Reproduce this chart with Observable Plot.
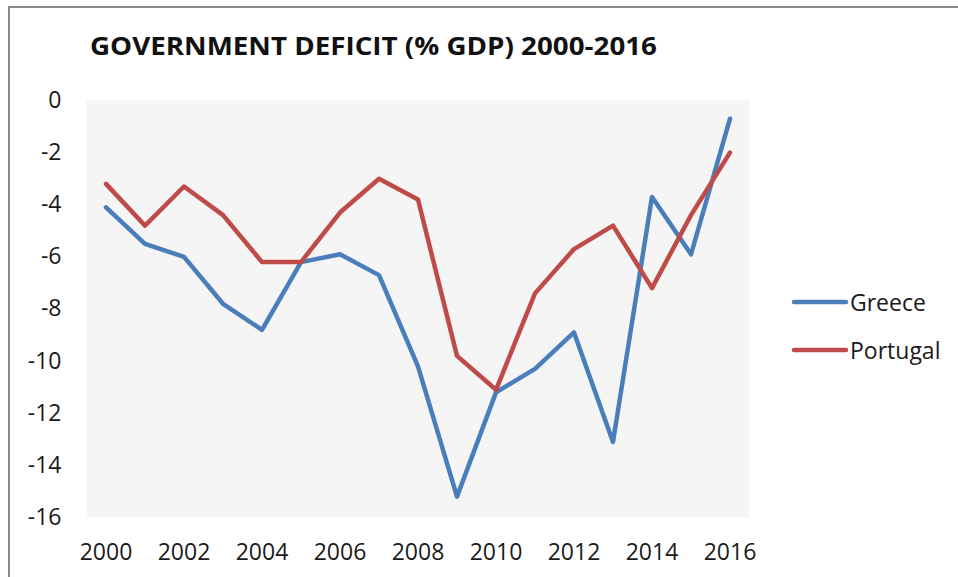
<!DOCTYPE html>
<html><head><meta charset="utf-8">
<script src="https://cdn.jsdelivr.net/npm/d3@7"></script>
<script src="https://cdn.jsdelivr.net/npm/@observablehq/plot@0.6"></script>
<style>
body{margin:0;background:#fff;}
#wrap{position:relative;width:958px;height:577px;overflow:hidden;font-family:"Open Sans",sans-serif;}
#frame{position:absolute;left:8px;top:6px;width:1000px;height:700px;border-left:2px solid #8a8a8a;border-top:2px solid #8a8a8a;}
#chart{position:absolute;left:0;top:80px;}
#over{position:absolute;left:0;top:0;pointer-events:none;}
</style>
</head><body>
<div id="wrap">
  <div id="frame"></div>
  <div id="chart"></div>
  <svg id="over" width="958" height="577"></svg>
</div>
<script>
const titleText = "GOVERNMENT DEFICIT (% GDP) 2000-2016";
const years = [2000,2001,2002,2003,2004,2005,2006,2007,2008,2009,2010,2011,2012,2013,2014,2015,2016];
const greece = [-4.1,-5.5,-6.0,-7.8,-8.8,-6.2,-5.9,-6.7,-10.2,-15.2,-11.2,-10.3,-8.9,-13.1,-3.7,-5.9,-0.7];
const portugal = [-3.2,-4.8,-3.3,-4.4,-6.2,-6.2,-4.3,-3.0,-3.8,-9.8,-11.1,-7.4,-5.7,-4.8,-7.2,-4.4,-2.0];
const seriesNames = ["Greece","Portugal"];
const seriesColors = ["#4a7ebb","#be4b48"];
const xTicks = [2000,2002,2004,2006,2008,2010,2012,2014,2016];
const yTicks = [0,-2,-4,-6,-8,-10,-12,-14,-16];

const greeceRows = years.map((y,i)=>({year:y,value:greece[i]}));
const portugalRows = years.map((y,i)=>({year:y,value:portugal[i]}));

const chart = Plot.plot({
  width:958, height:497,
  marginLeft:86, marginRight:209, marginTop:20, marginBottom:60,
  x:{domain:[1999.5,2016.5], ticks:xTicks, tickFormat:d=>String(d), tickSize:0, tickPadding:26, label:null},
  y:{domain:[-16,0], ticks:yTicks, tickFormat:d=>String(d), tickSize:0, tickPadding:25, label:null},
  style:{fontFamily:"'Open Sans', sans-serif", fontSize:"23px", color:"#1a1a1a", background:"transparent", overflow:"visible"},
  marks:[
    Plot.frame({fill:"#f5f5f5", stroke:null}),
    Plot.line(greeceRows,{x:"year", y:"value", stroke:seriesColors[0], strokeWidth:4.5, strokeLinejoin:"round", strokeLinecap:"round"}),
    Plot.line(portugalRows,{x:"year", y:"value", stroke:seriesColors[1], strokeWidth:4.5, strokeLinejoin:"round", strokeLinecap:"round"})
  ]
});
document.getElementById("chart").appendChild(chart);

const NS = "http://www.w3.org/2000/svg";
const over = document.getElementById("over");
const t = document.createElementNS(NS,"text");
t.setAttribute("x",90); t.setAttribute("y",55);
t.setAttribute("font-family","'Open Sans', sans-serif");
t.setAttribute("font-weight","bold");
t.setAttribute("font-size","25.5");
t.setAttribute("fill","#111");
t.setAttribute("textLength","567");
t.setAttribute("lengthAdjust","spacingAndGlyphs");
t.textContent = titleText;
over.appendChild(t);

seriesNames.forEach((name,i)=>{
  const cy = 302 + i*48;
  const l = document.createElementNS(NS,"line");
  l.setAttribute("x1",794); l.setAttribute("x2",846);
  l.setAttribute("y1",cy); l.setAttribute("y2",cy);
  l.setAttribute("stroke",seriesColors[i]); l.setAttribute("stroke-width",4.5);
  l.setAttribute("stroke-linecap","round");
  over.appendChild(l);
  const tx = document.createElementNS(NS,"text");
  tx.setAttribute("x",850); tx.setAttribute("y",cy+9);
  tx.setAttribute("font-family","'Open Sans', sans-serif");
  tx.setAttribute("font-size","23");
  tx.setAttribute("fill","#1a1a1a");
  tx.textContent = name;
  over.appendChild(tx);
});
</script>
</body></html>
